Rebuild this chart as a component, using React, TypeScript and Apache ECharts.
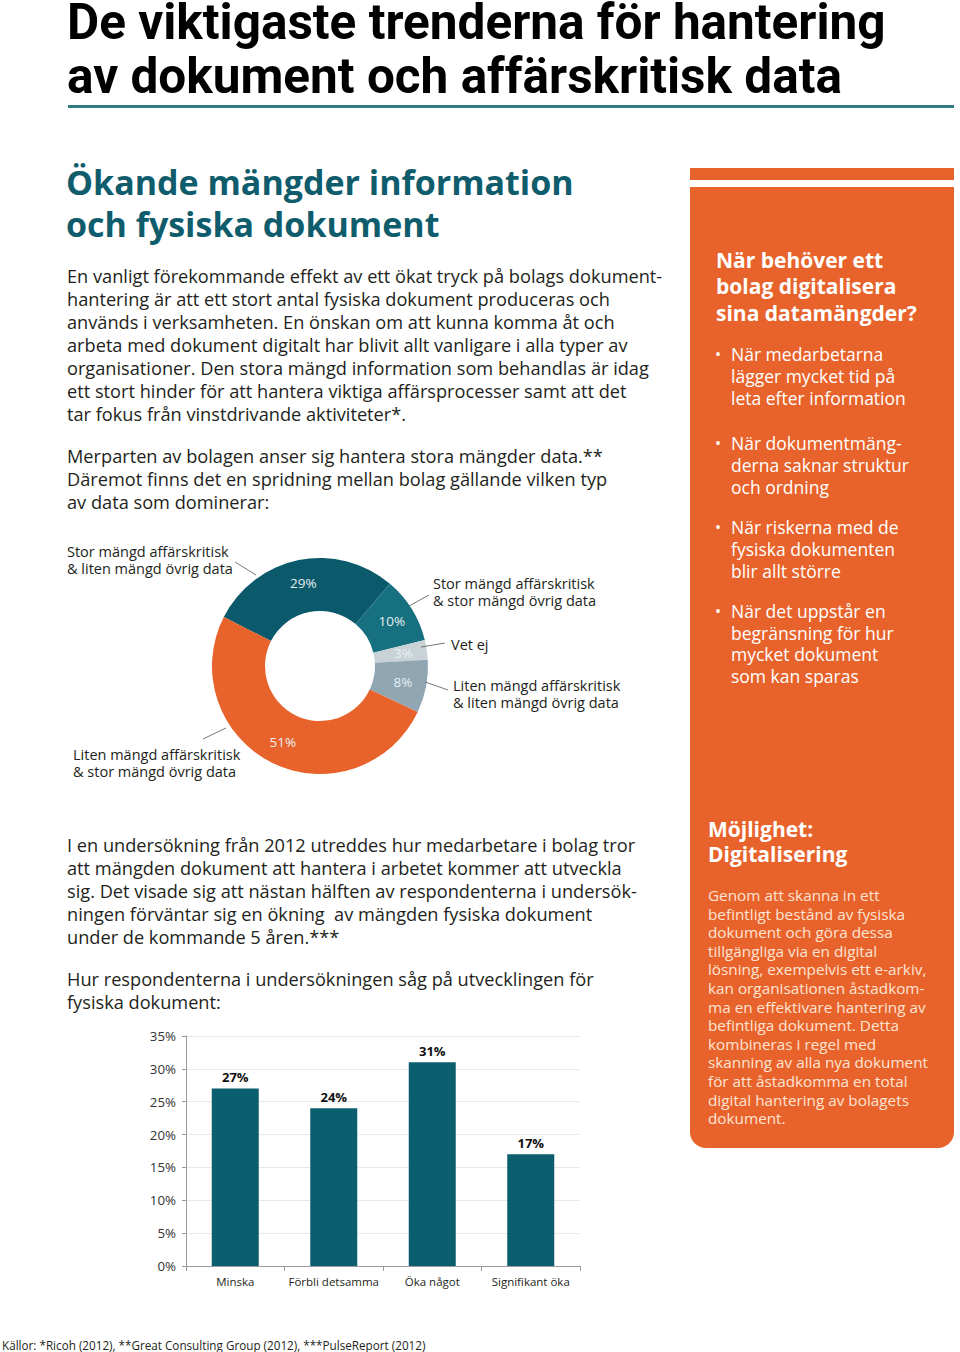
import React, { useEffect, useRef } from "react";
import * as echarts from "echarts";

// ---- Data ----
const donutNames = [
  "Stor mängd affärskritisk\n& liten mängd övrig data",
  "Stor mängd affärskritisk\n& stor mängd övrig data",
  "Vet ej",
  "Liten mängd affärskritisk\n& liten mängd övrig data",
  "Liten mängd affärskritisk\n& stor mängd övrig data",
];
const donutValues = [29, 10, 3, 8, 51];
const donutColors = ["#0b5a6c", "#17707f", "#c8d2d7", "#90a6b3", "#e8632b"];

const barCategories = ["Minska", "Förbli detsamma", "Öka något", "Signifikant öka"];
const barValues = [27, 24, 31, 17];
const yTicks = { min: 0, max: 35, interval: 5 };

const titleLines = ["De viktigaste trenderna för hantering", "av dokument och affärskritisk data"];
const sectionHeading = ["Ökande mängder information", "och fysiska dokument"];
const para1 = [
  "En vanligt förekommande effekt av ett ökat tryck på bolags dokument-",
  "hantering är att ett stort antal fysiska dokument produceras och",
  "används i verksamheten. En önskan om att kunna komma åt och",
  "arbeta med dokument digitalt har blivit allt vanligare i alla typer av",
  "organisationer. Den stora mängd information som behandlas är idag",
  "ett stort hinder för att hantera viktiga affärsprocesser samt att det",
  "tar fokus från vinstdrivande aktiviteter*.",
];
const para2 = [
  "Merparten av bolagen anser sig hantera stora mängder data.**",
  "Däremot finns det en spridning mellan bolag gällande vilken typ",
  "av data som dominerar:",
];
const para3 = [
  "I en undersökning från 2012 utreddes hur medarbetare i bolag tror",
  "att mängden dokument att hantera i arbetet kommer att utveckla",
  "sig. Det visade sig att nästan hälften av respondenterna i undersök-",
  "ningen förväntar sig en ökning  av mängden fysiska dokument",
  "under de kommande 5 åren.***",
];
const para4 = [
  "Hur respondenterna i undersökningen såg på utvecklingen för",
  "fysiska dokument:",
];
const panelHeading1 = ["När behöver ett", "bolag digitalisera", "sina datamängder?"];
const panelBullets = [
  ["När medarbetarna", "lägger mycket tid på", "leta efter information"],
  ["När dokumentmäng-", "derna saknar struktur", "och ordning"],
  ["När riskerna med de", "fysiska dokumenten", "blir allt större"],
  ["När det uppstår en", "begränsning för hur", "mycket dokument", "som kan sparas"],
];
const panelHeading2 = ["Möjlighet:", "Digitalisering"];
const panelBody = [
  "Genom att skanna in ett",
  "befintligt bestånd av fysiska",
  "dokument och göra dessa",
  "tillgängliga via en digital",
  "lösning, exempelvis ett e-arkiv,",
  "kan organisationen åstadkom-",
  "ma en effektivare hantering av",
  "befintliga dokument. Detta",
  "kombineras i regel med",
  "skanning av alla nya dokument",
  "för att åstadkomma en total",
  "digital hantering av bolagets",
  "dokument.",
];
const footer = "Källor: *Ricoh (2012), **Great Consulting Group (2012), ***PulseReport (2012)";

const ORANGE = "#e8632b";
const TEAL = "#0f5c6c";
const BODY = "Open Sans";

function textBlock(lines: string[], x: number, firstCenterY: number, lh: number, style: any) {
  return {
    type: "text",
    x,
    y: firstCenterY - lh / 2,
    z: 10,
    style: {
      text: lines.join("\n"),
      lineHeight: lh,
      verticalAlign: "top",
      align: "left",
      ...style,
    },
  };
}

function leader(x1: number, y1: number, x2: number, y2: number) {
  return {
    type: "line",
    z: 10,
    shape: { x1, y1, x2, y2 },
    style: { stroke: "#555", lineWidth: 0.8 },
  };
}

export default function App() {
  const ref = useRef<HTMLDivElement>(null);

  useEffect(() => {
    if (!ref.current) return;
    const chart = echarts.init(ref.current, undefined, { renderer: "svg" });

    const bodyStyle = { fontFamily: BODY, fontSize: 18.2, fill: "#231f20" };
    const labelStyle = { fontFamily: BODY, fontSize: 14.5, fill: "#231f20" };
    const panelBulletStyle = { fontFamily: BODY, fontSize: 17.5, fill: "#ffffff" };
    const titleStyle = { fontFamily: "Roboto", fontWeight: "bold", fontSize: 49.5, fill: "#000" };
    const bulletLH = 21.6;

    const graphic: any[] = [
      // title (two separate lines)
      textBlock([titleLines[0]], 67, 22, 54, titleStyle),
      textBlock([titleLines[1]], 67, 76, 54, titleStyle),
      { type: "rect", z: 1, shape: { x: 68, y: 105, width: 886, height: 3 }, style: { fill: "#2f7b80" } },
      // section heading
      textBlock(sectionHeading, 66, 182, 42, {
        fontFamily: BODY,
        fontWeight: "bold",
        fontSize: 34,
        fill: TEAL,
      }),
      textBlock(para1, 67, 276, 23, bodyStyle),
      textBlock(para2, 67, 456, 23, bodyStyle),
      textBlock(para3, 67, 845, 23, bodyStyle),
      textBlock(para4, 67, 979, 23, bodyStyle),
      // donut external labels
      textBlock(donutNames[0].split("\n"), 67, 551.3, 17.4, labelStyle),
      textBlock(donutNames[1].split("\n"), 433, 583.3, 17.4, labelStyle),
      textBlock(donutNames[2].split("\n"), 451, 644, 17.4, labelStyle),
      textBlock(donutNames[3].split("\n"), 453, 685.3, 17.4, labelStyle),
      textBlock(donutNames[4].split("\n"), 73, 754.3, 17.4, labelStyle),
      leader(235, 562, 256, 575),
      leader(409, 606, 429, 595),
      leader(421, 647, 445, 643),
      leader(425, 682, 448, 690),
      leader(226, 728, 203, 739),
      // orange panel
      { type: "rect", z: 1, shape: { x: 690, y: 168, width: 264, height: 12 }, style: { fill: ORANGE } },
      {
        type: "rect",
        z: 1,
        shape: { x: 690, y: 187, width: 264, height: 961, r: [0, 0, 16, 16] },
        style: { fill: ORANGE },
      },
      textBlock(panelHeading1, 716, 260, 26.4, {
        fontFamily: BODY,
        fontWeight: "bold",
        fontSize: 21,
        fill: "#fff",
      }),
      ...panelBullets.flatMap((lines, i) => {
        const starts = [355, 444, 528, 612];
        const first = starts[i] - ((lines.length - 1) * (bulletLH - 21)) / 2;
        return [
          textBlock(["•"], 715, first, bulletLH, { ...panelBulletStyle, fontSize: 16 }),
          textBlock(lines, 731, first, bulletLH, panelBulletStyle),
        ];
      }),
      textBlock(panelHeading2, 708, 829, 25.2, {
        fontFamily: BODY,
        fontWeight: "bold",
        fontSize: 21,
        fill: "#fff",
      }),
      textBlock(panelBody, 708, 895, 18.6, { fontFamily: BODY, fontSize: 15.3, fill: "#fde3d4" }),
      // footer
      textBlock([footer], 2, 1345, 14, { fontFamily: BODY, fontSize: 11.7, fill: "#231f20" }),
    ];

    const option: any = {
      animation: false,
      backgroundColor: "#ffffff",
      textStyle: { fontFamily: BODY },
      graphic,
      grid: { left: 186, top: 1036, width: 394, height: 230, containLabel: false },
      xAxis: {
        type: "category",
        data: barCategories,
        axisLine: { show: true, lineStyle: { color: "#9a9a9a", width: 1 } },
        axisTick: { show: true, alignWithLabel: false, length: 5, lineStyle: { color: "#9a9a9a" } },
        axisLabel: { interval: 0, fontSize: 11.5, color: "#231f20", margin: 9, fontFamily: BODY },
      },
      yAxis: {
        type: "value",
        min: yTicks.min,
        max: yTicks.max,
        interval: yTicks.interval,
        axisLine: { show: true, lineStyle: { color: "#9a9a9a", width: 1 } },
        axisTick: { show: true, length: 4, lineStyle: { color: "#9a9a9a" } },
        axisLabel: { formatter: "{value}%", fontSize: 13.3, color: "#333", margin: 10, fontFamily: BODY },
        splitLine: { show: true, lineStyle: { color: "#e8e8e8", width: 1 } },
      },
      series: [
        {
          type: "pie",
          center: [320, 666],
          radius: [55, 108],
          startAngle: 153,
          clockwise: true,
          avoidLabelOverlap: false,
          silent: true,
          data: donutValues.map((v, i) => ({
            value: v,
            name: donutNames[i],
            itemStyle: { color: donutColors[i] },
          })),
          label: {
            show: true,
            position: "inside",
            formatter: "{c}%",
            fontSize: 13.5,
            color: "#e6eef1",
            fontFamily: BODY,
          },
          labelLine: { show: false },
        },
        {
          type: "bar",
          data: barValues,
          barWidth: 47,
          itemStyle: { color: "#0b5e6e" },
          label: {
            show: true,
            position: "top",
            distance: 5,
            formatter: "{c}%",
            fontWeight: "bold",
            fontSize: 13,
            color: "#111",
            fontFamily: BODY,
          },
          silent: true,
        },
      ],
    };

    chart.setOption(option);
    return () => chart.dispose();
  }, []);

  return (
    <div
      ref={ref}
      style={{ position: "absolute", left: 0, top: 0, width: 960, height: 1352 }}
    />
  );
}
